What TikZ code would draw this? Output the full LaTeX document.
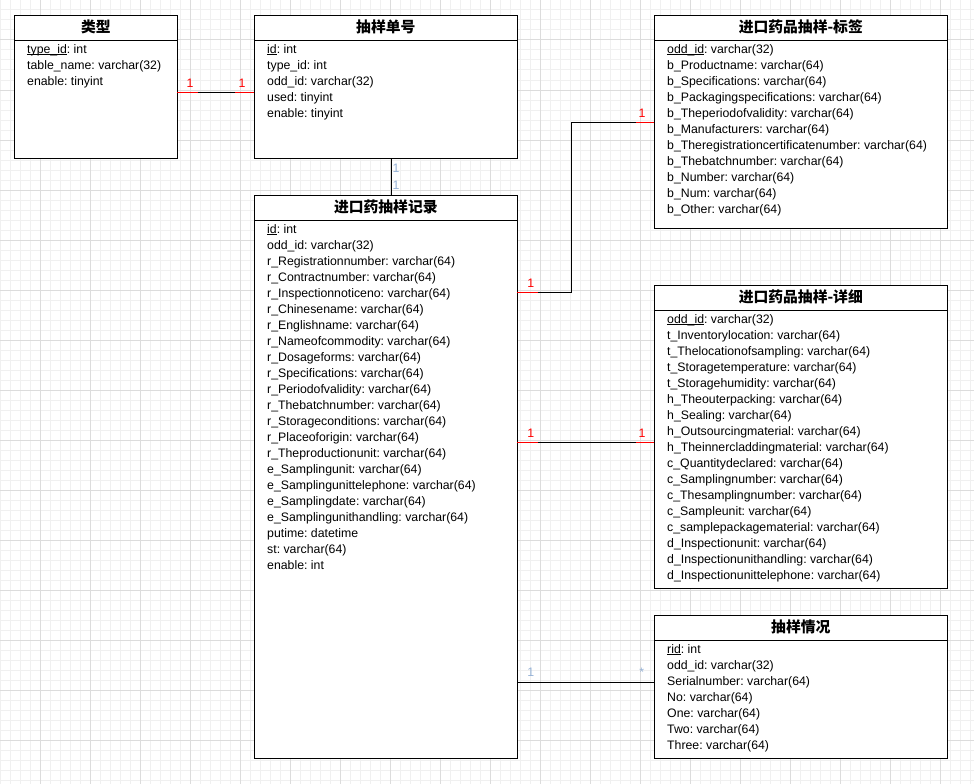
\documentclass[tikz,border=0pt]{standalone}
\usepackage{fontspec}
\setmainfont{Liberation Sans}
\newfontfamily\cjk{Noto Sans CJK SC}
\usetikzlibrary{calc}
\frenchspacing
\definecolor{gridminor}{RGB}{240,240,240}
\definecolor{gridmajor}{RGB}{220,220,220}
\definecolor{relred}{RGB}{255,0,0}
\definecolor{lblblue}{RGB}{150,178,214}
\tikzset{
  tbl/.style={draw=black, line width=1pt, fill=white, inner sep=0pt, outer sep=0pt, anchor=north west},
  tbltitle/.style={font=\cjk\bfseries\fontsize{14.8}{15}\selectfont, inner sep=0pt},
  attr/.style={font=\fontsize{12.3}{14}\selectfont, inner sep=0pt, anchor=base west},
  conn/.style={line width=1pt, draw=black},
  redend/.style={line width=1pt, draw=relred},
  lblred/.style={font=\fontsize{12.3}{14}\selectfont, text=relred, inner sep=0pt, anchor=base},
  lblblu/.style={font=\fontsize{12.3}{14}\selectfont, text=lblblue, inner sep=0pt, anchor=base},
  gminor/.style={draw=gridminor, line width=1pt},
  gmajor/.style={draw=gridmajor, line width=1pt},
}
\newcommand\ukey[1]{\setbox0\hbox{#1}\rlap{\rule[-1.8pt]{\wd0}{0.8pt}}\box0}
\newcommand\erTable[6]{%
  \node[tbl, minimum width=#4pt, minimum height=#5pt] (#1) at (#2,#3) {};
  \draw[line width=1pt] ($(#1.north west)+(0,25)$) -- ($(#1.north east)+(0,25)$);
  \node[tbltitle] (#1-title) at ($(#1.north)+(0,12)$) {#6};
}
\newcommand\erFields[2]{%
  \foreach \f [count=\i from 0] in {#2} {
    \node[attr] (#1-f\i) at ($(#1.north west)+(12.7,38+16*\i)$) {\f};
  }
}
\begin{document}
\begin{tikzpicture}[x=1pt,y=-1pt]
\useasboundingbox (0,0) rectangle (974,784);
\fill[white] (0,0) rectangle (974,784);
% grid
\foreach \x in {0,10,...,970} \draw[gminor] (\x,0) -- (\x,784);
\foreach \y in {0,10,...,780} \draw[gminor] (0,\y) -- (974,\y);
\foreach \x in {40,90,...,940} \draw[gmajor] (\x,0) -- (\x,784);
\foreach \y in {40,90,...,740} \draw[gmajor] (0,\y) -- (974,\y);

% tables
\erTable{type}{14.3}{15.3}{163}{143}{类型}
\erFields{type}{\ukey{type\_id}: int, table\_name: varchar(32), enable: tinyint}

\erTable{num}{254.3}{15.3}{263}{143}{抽样单号}
\erFields{num}{\ukey{id}: int, type\_id: int, odd\_id: varchar(32), used: tinyint, enable: tinyint}

\erTable{rec}{254.3}{195.3}{263}{563}{进口药抽样记录}
\erFields{rec}{\ukey{id}: int, odd\_id: varchar(32), r\_Registrationnumber: varchar(64), r\_Contractnumber: varchar(64), r\_Inspectionnoticeno: varchar(64), r\_Chinesename: varchar(64), r\_Englishname: varchar(64), r\_Nameofcommodity: varchar(64), r\_Dosageforms: varchar(64), r\_Specifications: varchar(64), r\_Periodofvalidity: varchar(64), r\_Thebatchnumber: varchar(64), r\_Storageconditions: varchar(64), r\_Placeoforigin: varchar(64), r\_Theproductionunit: varchar(64), e\_Samplingunit: varchar(64), e\_Samplingunittelephone: varchar(64), e\_Samplingdate: varchar(64), e\_Samplingunithandling: varchar(64), putime: datetime, st: varchar(64), enable: int}

\erTable{tag}{654.3}{15.3}{293}{213}{进口药品抽样-标签}
\erFields{tag}{\ukey{odd\_id}: varchar(32), b\_Productname: varchar(64), b\_Specifications: varchar(64), b\_Packagingspecifications: varchar(64), b\_Theperiodofvalidity: varchar(64), b\_Manufacturers: varchar(64), b\_Theregistrationcertificatenumber: varchar(64), b\_Thebatchnumber: varchar(64), b\_Number: varchar(64), b\_Num: varchar(64), b\_Other: varchar(64)}

\erTable{det}{654.3}{285.3}{293}{303}{进口药品抽样-详细}
\erFields{det}{\ukey{odd\_id}: varchar(32), t\_Inventorylocation: varchar(64), t\_Thelocationofsampling: varchar(64), t\_Storagetemperature: varchar(64), t\_Storagehumidity: varchar(64), h\_Theouterpacking: varchar(64), h\_Sealing: varchar(64), h\_Outsourcingmaterial: varchar(64), h\_Theinnercladdingmaterial: varchar(64), c\_Quantitydeclared: varchar(64), c\_Samplingnumber: varchar(64), c\_Thesamplingnumber: varchar(64), c\_Sampleunit: varchar(64), c\_samplepackagematerial: varchar(64), d\_Inspectionunit: varchar(64), d\_Inspectionunithandling: varchar(64), d\_Inspectionunittelephone: varchar(64)}

\erTable{sit}{654.3}{615.3}{293}{143}{抽样情况}
\erFields{sit}{\ukey{rid}: int, odd\_id: varchar(32), Serialnumber: varchar(64), No: varchar(64), One: varchar(64), Two: varchar(64), Three: varchar(64)}

% connector type - num
\coordinate (c1a) at ([yshift=-77pt]type.north east);
\coordinate (c1b) at ([yshift=-77pt]num.north west);
\draw[conn] (c1a) -- (c1b);
\draw[redend] (c1a) -- ++(21,0);
\draw[redend] (c1b) -- ++(-19,0);
\node[lblred] (l1a) at (190,87.6) {1};
\node[lblred] (l1b) at (242,87.6) {1};

% connector num - rec
\coordinate (c2a) at ([xshift=137.4pt]num.south west);
\coordinate (c2b) at ([xshift=137.4pt]rec.north west);
\draw[conn] (c2a) -- (c2b);
\node[lblblu] (l2a) at (396,172) {1};
\node[lblblu] (l2b) at (396,189.3) {1};

% connector rec - tag
\coordinate (c3a) at ([yshift=-96.7pt]rec.north east);
\coordinate (c3b) at ([yshift=-107pt]tag.north west);
\draw[conn] (c3a) -- ++(54.4,0) |- (c3b);
\draw[redend] (c3a) -- ++(20.4,0);
\draw[redend] (c3b) -- ++(-18.6,0);
\node[lblred] (l3a) at (530.7,287.6) {1};
\node[lblred] (l3b) at (642,117.3) {1};

% connector rec - det
\coordinate (c4a) at ([yshift=-246.7pt]rec.north east);
\coordinate (c4b) at ([yshift=-156.7pt]det.north west);
\draw[conn] (c4a) -- (c4b);
\draw[redend] (c4a) -- ++(20.4,0);
\draw[redend] (c4b) -- ++(-18.6,0);
\node[lblred] (l4a) at (530.7,437.6) {1};
\node[lblred] (l4b) at (642,437.6) {1};

% connector rec - sit
\coordinate (c5a) at ([yshift=-486.7pt]rec.north east);
\coordinate (c5b) at ([yshift=-66.7pt]sit.north west);
\draw[conn] (c5a) -- (c5b);
\node[lblblu] (l5a) at (530.7,676.6) {1};
\node[lblblu] (l5b) at (641.7,676.6) {*};
\end{tikzpicture}
\end{document}
